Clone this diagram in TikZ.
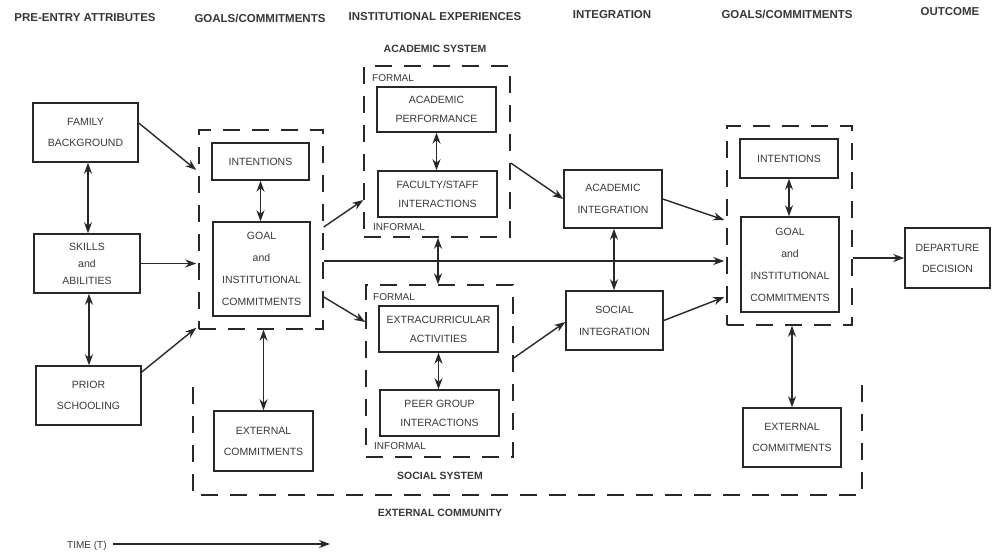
\documentclass[tikz,border=0pt]{standalone}
\usepackage{fontspec}
\setmainfont{Liberation Sans}
\usetikzlibrary{arrows.meta,calc}
\definecolor{ink}{RGB}{40,40,40}
\definecolor{txt}{RGB}{55,55,55}
\tikzset{
  box/.style={draw=ink, line width=1.5pt, inner sep=0pt, align=center, text=txt,
    font=\fontsize{10.5}{21}\selectfont},
  dbox/.style={draw=ink, line width=1.5pt, dash pattern=on 17pt off 12pt, inner sep=0pt},
  dline/.style={draw=ink, line width=1.5pt, dash pattern=on 17pt off 12pt},
  head/.style={font=\bfseries\fontsize{11.5}{13}\selectfont, text=txt, inner sep=0pt},
  subhead/.style={font=\bfseries\fontsize{10.5}{12}\selectfont, text=txt, inner sep=0pt},
  lbl/.style={font=\fontsize{10}{12}\selectfont, text=txt, inner sep=0pt, anchor=west},
  tip/.tip={Stealth[length=11pt,width=8pt,inset=3.5pt]},
  arr/.style={draw=ink, line width=1.4pt, -tip},
  darr/.style={draw=ink, line width=1.4pt, tip-tip},
}
\begin{document}
\begin{tikzpicture}[x=1pt,y=-1pt]
\useasboundingbox (0,0) rectangle (992,552);
% headers
\node[head] (h1) at (85,18) {PRE-ENTRY ATTRIBUTES};
\node[head] (h2) at (260,18) {GOALS/COMMITMENTS};
\node[head] (h3) at (435,17) {INSTITUTIONAL EXPERIENCES};
\node[head] (h4) at (612,15) {INTEGRATION};
\node[head] (h5) at (787,14) {GOALS/COMMITMENTS};
\node[head] (h6) at (950,12) {OUTCOME};
\node[subhead] (acs) at (435,49) {ACADEMIC SYSTEM};
\node[subhead] (scs) at (440,476) {SOCIAL SYSTEM};
\node[subhead] (exc) at (440,513) {EXTERNAL COMMUNITY};

% dashed groups
\node[dbox, minimum width=124pt, minimum height=199pt] (g1) at (261,229.5) {};
\node[dbox, minimum width=146pt, minimum height=171pt] (acad) at (437,151.5) {};
\node[dbox, minimum width=147pt, minimum height=172pt] (soc) at (439.5,371) {};
\node[dbox, minimum width=125pt, minimum height=199pt] (g2) at (789.5,225.5) {};
\coordinate (ec1) at (193,387);
\coordinate (ec2) at (193,495);
\coordinate (ec3) at (862,495);
\coordinate (ec4) at (862,383);
\draw[dline] (ec1) -- (ec2) -- (ec3) -- (ec4);

% boxes
\node[box, minimum width=105pt, minimum height=59pt] (fam) at (85.5,132.5) {FAMILY\\BACKGROUND};
\node[box, minimum width=106pt, minimum height=59pt, font=\fontsize{10.5}{17}\selectfont] (skills) at (87,263.5) {SKILLS\\and\\ABILITIES};
\node[box, minimum width=105pt, minimum height=59pt] (prior) at (88.5,395.5) {PRIOR\\SCHOOLING};
\node[box, minimum width=97pt, minimum height=37pt] (int1) at (260.5,161.5) {INTENTIONS};
\node[box, minimum width=97pt, minimum height=94pt, font=\fontsize{10.5}{22}\selectfont] (goal1) at (261.5,269) {GOAL\\and\\INSTITUTIONAL\\COMMITMENTS};
\node[box, minimum width=99pt, minimum height=60pt] (ext1) at (263.5,441) {EXTERNAL\\COMMITMENTS};
\node[box, minimum width=119pt, minimum height=45pt, font=\fontsize{10.5}{19}\selectfont] (acperf) at (436.5,109.5) {ACADEMIC\\PERFORMANCE};
\node[box, minimum width=119pt, minimum height=46pt, font=\fontsize{10.5}{19}\selectfont] (fac) at (437.5,194) {FACULTY/STAFF\\INTERACTIONS};
\node[box, minimum width=119pt, minimum height=46pt, font=\fontsize{10.5}{19}\selectfont] (extra) at (438.5,329) {EXTRACURRICULAR\\ACTIVITIES};
\node[box, minimum width=119pt, minimum height=46pt, font=\fontsize{10.5}{19}\selectfont] (peer) at (439.5,413) {PEER GROUP\\INTERACTIONS};
\node[box, minimum width=98pt, minimum height=58pt, font=\fontsize{10.5}{22}\selectfont] (acint) at (613,199) {ACADEMIC\\INTEGRATION};
\node[box, minimum width=97pt, minimum height=59pt, font=\fontsize{10.5}{22}\selectfont] (socint) at (614.5,320.5) {SOCIAL\\INTEGRATION};
\node[box, minimum width=98pt, minimum height=39pt] (int2) at (789,158.5) {INTENTIONS};
\node[box, minimum width=98pt, minimum height=95pt, font=\fontsize{10.5}{22}\selectfont] (goal2) at (790,264.5) {GOAL\\and\\INSTITUTIONAL\\COMMITMENTS};
\node[box, minimum width=98pt, minimum height=59pt] (ext2) at (792,437.5) {EXTERNAL\\COMMITMENTS};
\node[box, minimum width=85pt, minimum height=60pt] (dep) at (947.5,258) {DEPARTURE\\DECISION};

% FORMAL / INFORMAL labels
\node[lbl] (f1) at (372,78) {FORMAL};
\node[lbl] (i1) at (373,227) {INFORMAL};
\node[lbl] (f2) at (373,297) {FORMAL};
\node[lbl] (i2) at (374,446) {INFORMAL};

% connectors - left column
\draw[darr] (fam.south -| 88,0) -- (skills.north -| 88,0);
\draw[darr] (skills.south -| 89,0) -- (prior.north -| 89,0);
\draw[arr] ([yshift=9.5pt]fam.east) -- ([yshift=59.5pt,xshift=-2pt]g1.west);
\draw[arr] (skills.east) -- ([xshift=-2pt]g1.west |- skills.east);
\draw[arr] ([yshift=23.5pt]prior.east) -- ([xshift=-2pt,yshift=2pt]g1.south west);
% goals 1
\draw[darr] (int1.south) -- (int1.south |- goal1.north);
\draw[darr] (ext1.north |- g1.south) -- (ext1.north);
\draw[arr] ([yshift=2.5pt]g1.east) -- ([yshift=-48.5pt]acad.west);
\draw[arr] ([yshift=-67.5pt]g1.east) -- ([yshift=49pt]soc.west);
\draw[arr] ([yshift=-31.5pt]g1.east) -- ([xshift=-2pt]g2.west |- 0,261);
% institutional
\draw[darr] (acperf.south) -- (acperf.south |- fac.north);
\draw[darr] (extra.south) -- (extra.south |- peer.north);
\draw[darr] (acad.south -| 438,0) -- (soc.north -| 438,0);
\draw[arr] ([yshift=-11.5pt]acad.east) -- (acint.west);
\draw[arr] ([yshift=13pt]soc.east) -- ([yshift=-1.5pt]socint.west);
% integration
\draw[darr] (acint.south -| 614,0) -- (socint.north -| 614,0);
\draw[arr] (acint.east) -- ([xshift=-2pt,yshift=5.5pt]g2.west);
\draw[arr] (socint.east) -- ([xshift=-2pt,yshift=-71.5pt]g2.west);
% goals 2
\draw[darr] (int2.south) -- (int2.south |- goal2.north);
\draw[darr] (ext2.north |- g2.south) -- (ext2.north);
\draw[arr] (g2.east |- dep.west) -- (dep.west);

% time
\node[lbl] (time) at (67,546) {TIME (T)};
\coordinate (tend) at (330,544);
\draw[arr, line width=1.2pt] ([xshift=6pt]time.east |- tend) -- (tend);
\end{tikzpicture}
\end{document}
